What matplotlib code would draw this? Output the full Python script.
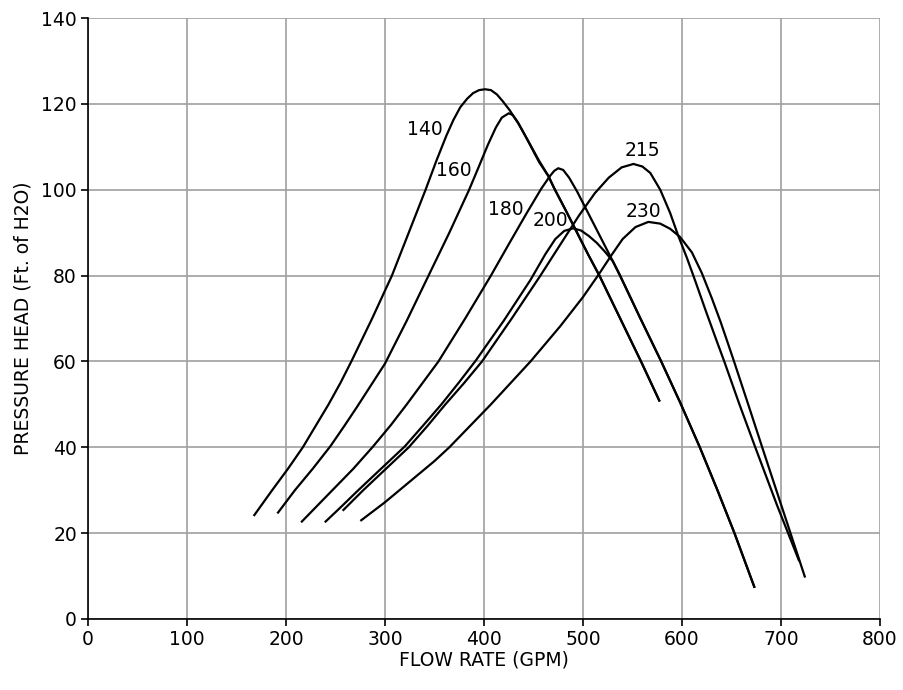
import matplotlib
matplotlib.use("Agg")
import matplotlib.pyplot as plt

# pump curves, one per impeller size (flow in GPM, head in ft of water)
flow_140 = [168, 186, 202, 217, 230, 243, 255, 266, 287, 307, 324, 341, 352, 362, 369, 376, 383, 389, 395, 401,
            407, 413, 419, 426, 435, 445, 455, 465,
            471, 483, 494, 505, 517, 538, 559, 577]
head_140 = [24.2, 30, 35, 40, 45, 50, 55, 60, 70, 80, 90, 100, 106.8, 112.6, 116.2, 119.2, 121.2, 122.5, 123.2, 123.4,
            123.2, 122.2, 120.6, 118.5, 115.3, 111.2, 107, 103.2,
            100.3, 95, 90, 85, 79.8, 69.8, 59.8, 50.9]

flow_160 = [192, 209, 227, 245, 259, 272, 286, 300, 322, 344, 365, 385, 395, 404, 412, 418, 425,
            429, 434, 440, 448, 456, 465,
            471, 483, 494, 505, 517, 538, 559, 577]
head_160 = [24.8, 30, 35, 40.3, 45, 49.5, 54.5, 59.5, 69.5, 80, 90, 100, 105.5, 110.5, 114.5, 116.8, 117.8,
            117.4, 115.8, 113.3, 109.8, 106.3, 103.2,
            100.3, 95, 90, 85, 79.8, 69.8, 59.8, 50.9]

flow_180 = [216, 246, 268, 288, 306, 322, 338, 354, 381, 407, 425, 443, 458, 467, 471, 475,
            480, 486, 494, 502, 510, 520, 530,
            537, 558, 579, 598, 618, 636, 653, 673]
head_180 = [22.7, 29.8, 35, 40.2, 45.2, 50, 55, 60, 70, 80, 87.3, 94.5, 100.3, 103.3, 104.4, 105,
            104.6, 102.8, 99.6, 96, 92.4, 87.9, 83.4,
            80.2, 70, 60, 50.5, 40, 29.9, 20, 7.5]

flow_200 = [240, 256, 273, 296, 320, 339, 357, 375, 392, 420, 447, 462, 472, 481, 490, 498, 506, 514, 522, 530,
            537, 558, 579, 598, 618, 636, 653, 673]
head_200 = [22.7, 26.2, 30, 35, 40.2, 45.2, 50, 55.2, 60.3, 69.5, 79, 85, 88.5, 90.4, 91, 90.5, 89.2, 87.6, 85.6, 83.4,
            80.2, 70, 60, 50.5, 40, 29.9, 20, 7.5]

flow_215 = [258, 278, 301, 324, 343, 361, 380, 398, 428, 457, 477, 496, 512, 526, 539, 551, 560, 568,
            578, 588, 596, 605, 613, 624, 635, 643, 658, 674, 696, 718]
head_215 = [25.4, 30, 35, 40, 45, 50, 55, 60, 70, 80, 87.2, 94, 99.2, 102.8, 105.2, 106, 105.4, 103.9,
            100, 94.6, 89.4, 84.1, 79, 71.8, 64.8, 59.8, 50, 40, 26.5, 13.7]

flow_230 = [276, 300, 325, 350, 365, 386, 407, 427, 447, 477, 500, 516, 528, 540, 553, 566,
            578, 588, 598, 610, 620, 630, 639, 647, 654, 668, 682, 703, 724]
head_230 = [23, 27.2, 32, 36.8, 40, 45, 50, 55, 60, 68.2, 75, 80.3, 84.5, 88.5, 91.3, 92.5,
            92.1, 90.9, 89, 85.4, 80.6, 74.8, 69.2, 63.8, 59, 49.2, 39.3, 24.6, 9.9]

labels = ["140", "160", "180", "200", "215", "230"]
label_x = [340, 369.7, 421.7, 466.7, 560.3, 561]
label_y = [114.1, 104.4, 95.4, 92.8, 109.2, 95]

flows = [flow_140, flow_160, flow_180, flow_200, flow_215, flow_230]
heads = [head_140, head_160, head_180, head_200, head_215, head_230]

plt.rcParams['font.family'] = ['DejaVu Sans']

fig = plt.figure(figsize=(9.04, 6.9), dpi=100)
ax = fig.add_axes([88 / 904, 1 - 619 / 690, (880 - 88) / 904, (619 - 18) / 690])

for x, y in zip(flows, heads):
    ax.plot(x, y, color='black', linewidth=1.6, solid_joinstyle='round')

for name, lx, ly in zip(labels, label_x, label_y):
    ax.text(lx, ly, name, fontsize=13.5, ha='center', va='center')

ax.set_xlim(0, 800)
ax.set_ylim(0, 140)
ax.set_xticks(range(0, 801, 100))
ax.set_yticks(range(0, 141, 20))
ax.grid(True, color='#a0a0a0', linewidth=1.2)
ax.set_axisbelow(True)

for side in ('top', 'right'):
    ax.spines[side].set_visible(False)
for side in ('left', 'bottom'):
    ax.spines[side].set_linewidth(1.2)
ax.tick_params(axis='both', direction='out', length=5, width=1.2, labelsize=13.5, pad=3)

ax.set_xlabel("FLOW RATE (GPM)", fontsize=13.5, labelpad=1)
ax.set_ylabel("PRESSURE HEAD (Ft. of H2O)", fontsize=13.5, labelpad=6)

fig.savefig("out.png", dpi=100)
